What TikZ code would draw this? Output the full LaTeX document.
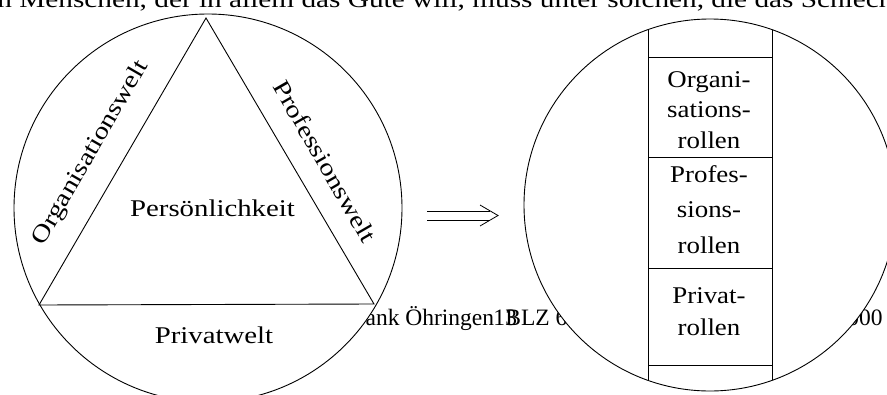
\documentclass[tikz,border=0pt]{standalone}
\usepackage{fontspec}
\setmainfont{Liberation Serif}
\begin{document}
\begin{tikzpicture}[x=1pt,y=-1pt,
  line width=0.9pt,
  lbl/.style={inner sep=0pt,font=\fontsize{24}{28}\selectfont},
  col/.style={inner sep=0pt,anchor=base,font=\fontsize{24}{28}\selectfont},
  bg/.style={inner sep=0pt,anchor=base west,font=\fontsize{23.5}{28}\selectfont},
  ring/.style={draw=black,fill=white}]
\useasboundingbox (0,0) rectangle (887,394);
\clip (0,0) rectangle (887,394);
% stray text behind the picture
\node[inner sep=0pt,anchor=base west,font=\fontsize{24}{28}\selectfont] (top) at (-3,7) {\scalebox{1.22}[1]{n Menschen, der in allem das Gute will, muss unter solchen, die das Schlechte}};
\node[bg] (bank) at (353.4,325) {bank Öhringen};
\node[bg] (one) at (493,325) {1};
\node[bg] (three) at (505,325) {3};
\node[bg] (blz) at (505,325) {BLZ 6};
\node[bg,anchor=base east] (zeros) at (883,325) {000};
% left circle
\node[ring,circle,minimum size=388pt,inner sep=0pt] (lc) at (208,208) {};
\coordinate (apex) at (206,18);
\coordinate (bl) at (39,305);
\coordinate (br) at (374,304);
\draw (apex) -- (bl) -- (br) -- cycle;
\node[lbl,anchor=base] (pers) at (212.5,216) {\scalebox{1.2}[1]{Persönlichkeit}};
\node[lbl,anchor=base] (priv) at (214,343) {\scalebox{1.2}[1]{Privatwelt}};
\node[lbl,rotate=60] (org) at (91,153) {\scalebox{1.2}[1]{Organisationswelt}};
\node[lbl,rotate=-60] (prof) at (325,161) {\scalebox{1.2}[1]{Professionswelt}};
% arrow
\coordinate (arrS) at (427,215.5);
\coordinate (arrE) at (498,215.5);
\draw[line width=0.8pt] (arrS) ++(0,-4.5) -- ++(63,0);
\draw[line width=0.8pt] (arrS) ++(0,4.5) -- ++(63,0);
\draw[line width=0.8pt] (arrE) ++(-18,-10.5) -- (arrE) -- ++(-18,10.5);
% right circle
\node[ring,circle,minimum size=372pt,inner sep=0pt] (rc) at (710,205) {};
\begin{scope}
\clip (710,205) circle[radius=186];
\draw (648,0) -- (648,400);
\draw (772,0) -- (772,400);
\end{scope}
\draw (648,57) -- (772,57);
\draw (648,157) -- (772,157);
\draw (648,268) -- (772,268);
\draw (648,365) -- (772,365);
\node[col] (o1) at (709,87) {\scalebox{1.12}[1]{Organi-}};
\node[col] (o2) at (709,117) {\scalebox{1.12}[1]{sations-}};
\node[col] (o3) at (709,148) {\scalebox{1.12}[1]{rollen}};
\node[col] (p1) at (709,182) {\scalebox{1.12}[1]{Profes-}};
\node[col] (p2) at (709,217) {\scalebox{1.12}[1]{sions-}};
\node[col] (p3) at (709,253) {\scalebox{1.12}[1]{rollen}};
\node[col] (v1) at (709,303) {\scalebox{1.12}[1]{Privat-}};
\node[col] (v2) at (709,335) {\scalebox{1.12}[1]{rollen}};
\end{tikzpicture}
\end{document}
